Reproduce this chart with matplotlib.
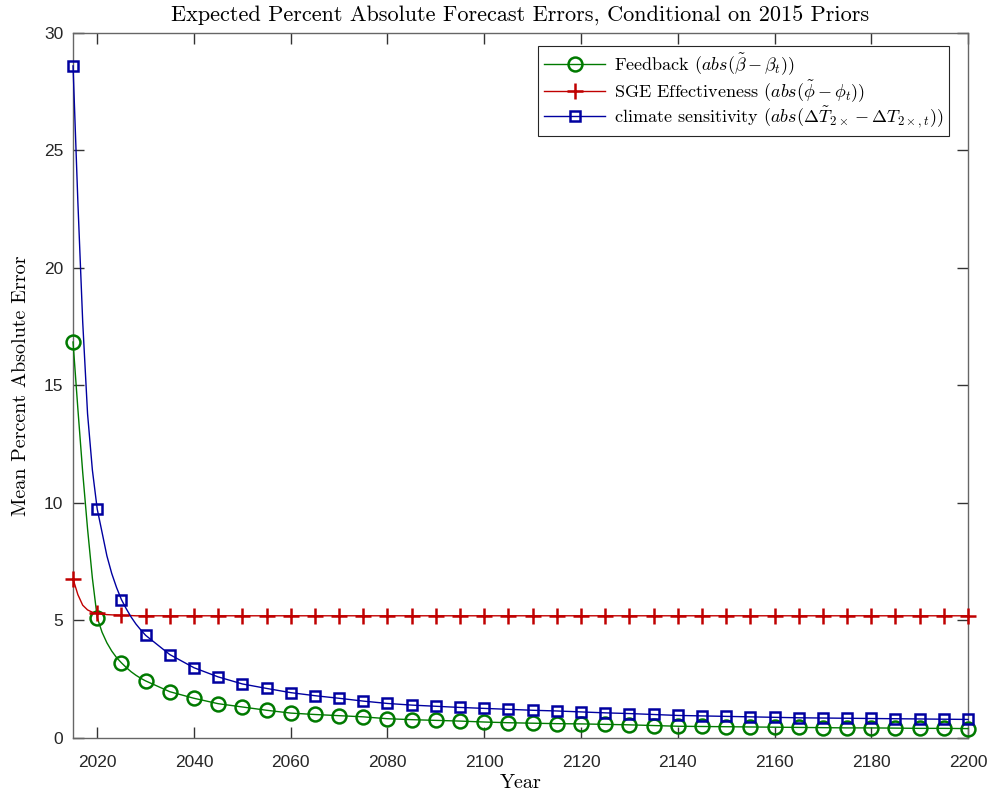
import matplotlib
matplotlib.use('Agg')
import matplotlib.pyplot as plt

# Data (annual near the start, 5-yearly afterwards)
years = [2015, 2016, 2017, 2018, 2019, 2020, 2021, 2022, 2023, 2024, 2025,
         2026, 2027, 2028, 2029, 2030, 2035, 2040, 2045, 2050, 2055, 2060,
         2065, 2070, 2075, 2080, 2085, 2090, 2095, 2100, 2105, 2110, 2115,
         2120, 2125, 2130, 2135, 2140, 2145, 2150, 2155, 2160, 2165, 2170,
         2175, 2180, 2185, 2190, 2195, 2200]

feedback = [16.85, 14.0, 11.3, 8.9, 6.8, 5.12, 4.5, 4.05, 3.7, 3.42, 3.2,
            3.0, 2.82, 2.67, 2.54, 2.43, 1.97, 1.69, 1.46, 1.32, 1.18, 1.06,
            1.0, 0.95, 0.9, 0.82, 0.78, 0.75, 0.72, 0.68, 0.65, 0.63, 0.61,
            0.6, 0.58, 0.56, 0.53, 0.5, 0.49, 0.48, 0.47, 0.46, 0.45, 0.44,
            0.43, 0.43, 0.42, 0.41, 0.41, 0.4]

sge = [6.77, 6.1, 5.65, 5.45, 5.35, 5.3, 5.27, 5.25, 5.24, 5.23, 5.22,
       5.21, 5.21, 5.2, 5.2, 5.2, 5.2, 5.2, 5.2, 5.2, 5.2, 5.2,
       5.2, 5.2, 5.2, 5.2, 5.2, 5.2, 5.2, 5.2, 5.2, 5.2, 5.2,
       5.2, 5.2, 5.2, 5.2, 5.2, 5.2, 5.2, 5.2, 5.2, 5.2, 5.2,
       5.2, 5.2, 5.2, 5.2, 5.2, 5.2]

climate = [28.6, 22.8, 17.7, 13.8, 11.4, 9.74, 8.75, 7.75, 7.0, 6.4, 5.89,
           5.5, 5.15, 4.85, 4.6, 4.37, 3.55, 2.99, 2.6, 2.3, 2.11, 1.93,
           1.8, 1.69, 1.57, 1.47, 1.4, 1.35, 1.3, 1.26, 1.22, 1.18, 1.15,
           1.11, 1.07, 1.04, 1.0, 0.96, 0.94, 0.92, 0.9, 0.88, 0.86, 0.85,
           0.84, 0.83, 0.82, 0.81, 0.8, 0.79]

xticks = list(range(2020, 2201, 20))
yticks = list(range(0, 31, 5))

# marker only on the 5-year points
marks = [i for i, y in enumerate(years) if y % 5 == 0]

plt.rcParams['mathtext.fontset'] = 'cm'
serif = 'cmr10'

fig = plt.figure(figsize=(9.91, 8), dpi=100)
ax = fig.add_axes([0.0737, 0.0775, 0.9031, 0.8813])

green = '#007a00'
red = '#c00000'
blue = '#0000a0'

ax.plot(years, feedback, color=green, lw=1.0, marker='o', markevery=marks,
        markersize=10, markerfacecolor='none', markeredgewidth=1.8,
        clip_on=False, zorder=3,
        label=r'Feedback ($abs(\tilde{\beta}-\beta_t)$)')
ax.plot(years, sge, color=red, lw=1.0, marker='+', markevery=marks,
        markersize=11, markeredgewidth=1.8, clip_on=False, zorder=3,
        label=r'SGE Effectiveness ($abs(\tilde{\phi}-\phi_t)$)')
ax.plot(years, climate, color=blue, lw=1.0, marker='s', markevery=marks,
        markersize=7, markerfacecolor='none', markeredgewidth=1.8,
        clip_on=False, zorder=3,
        label=r'climate sensitivity ($abs(\Delta\tilde{T}_{2\times}-\Delta T_{2\times,t})$)')

ax.set_xlim(2015, 2200)
ax.set_ylim(0, 30)
ax.set_xticks(xticks)
ax.set_yticks(yticks)

axis_col = '#666666'
for s in ax.spines.values():
    s.set_color(axis_col)
    s.set_linewidth(1.0)
ax.tick_params(direction='in', top=True, right=True, length=8, width=1.0,
               color='#333333', labelsize=12.5, labelcolor='#262626')
ax.tick_params(axis='x', pad=12)
ax.tick_params(axis='y', pad=7)
for lab in ax.get_xticklabels() + ax.get_yticklabels():
    lab.set_fontfamily('Liberation Sans')

ax.set_title('Expected Percent Absolute Forecast Errors, Conditional on 2015 Priors',
             fontfamily=serif, fontsize=16, pad=8)
ax.set_xlabel('Year', fontfamily=serif, fontsize=14.5, labelpad=3)
ax.set_ylabel('Mean Percent Absolute Error', fontfamily=serif, fontsize=14.5, labelpad=10)

leg = ax.legend(loc='upper right', prop={'family': serif, 'size': 13},
                fancybox=False, framealpha=1, edgecolor='#262626',
                bbox_to_anchor=(0.979, 0.982), borderaxespad=0,
                handlelength=3.4, labelspacing=0.05,
                borderpad=0.3, handletextpad=0.5)
leg.get_frame().set_linewidth(0.8)
leg.set_zorder(5)

fig.savefig('out.png', dpi=100)
